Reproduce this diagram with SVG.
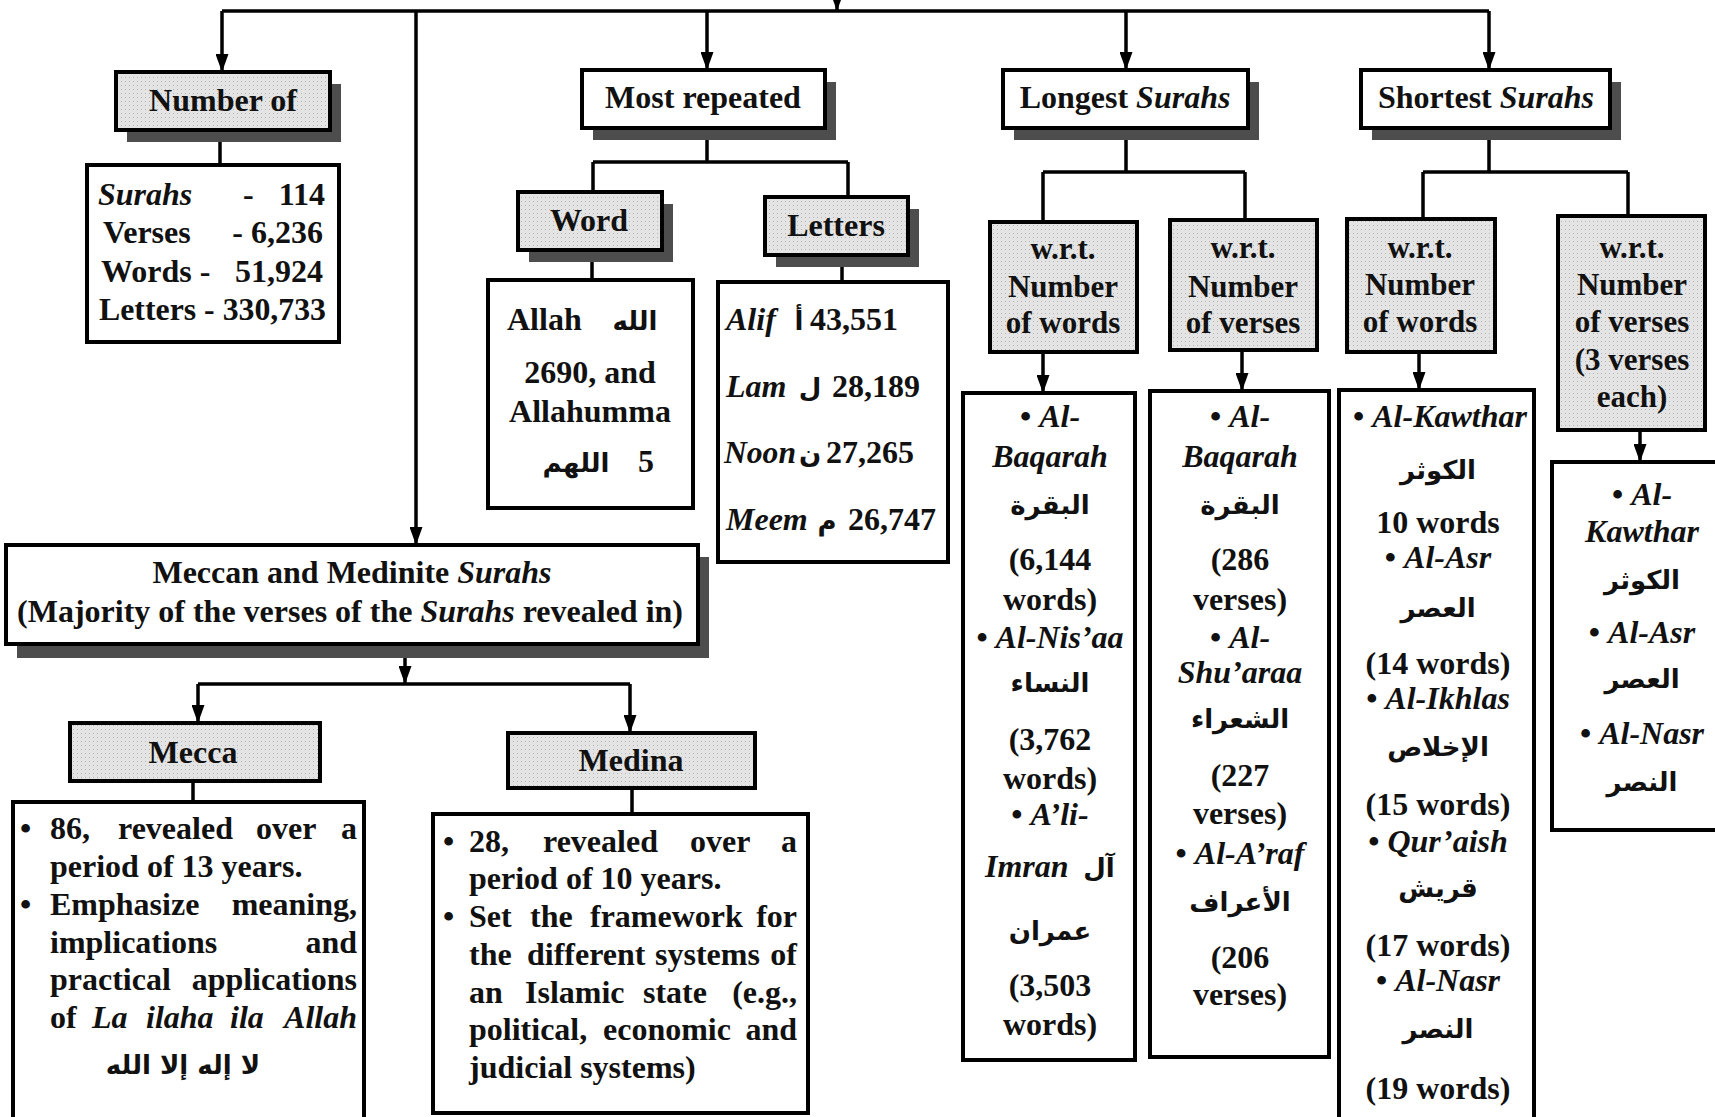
<svg xmlns="http://www.w3.org/2000/svg" width="1715" height="1117" viewBox="0 0 1715 1117">
<style>
.b{stroke:#000;stroke-width:4;fill:#fff}
.g{stroke:#000;stroke-width:4;fill:url(#dots)}
.sh{fill:#4d4d4d}
.con{stroke:#000;stroke-width:3.5;fill:none}
.arr{marker-end:url(#ah)}
text{font-family:"Liberation Serif","Times New Roman",serif;font-weight:bold;font-size:32px;fill:#111}
.i{font-style:italic}
.ar{font-family:"DejaVu Sans",sans-serif;font-weight:bold;font-size:26px}
.c{text-anchor:middle}
.e{text-anchor:end}
.w{font-size:31px}
</style>
<defs>
<pattern id="dots" width="4" height="4" patternUnits="userSpaceOnUse">
<rect width="4" height="4" fill="#e4e4e4"/>
<rect x="1" y="1" width="1" height="1" fill="#b5b5b5"/>
</pattern>
<marker id="ah" viewBox="0 0 18 13" refX="18" refY="6.5" markerWidth="18" markerHeight="13" markerUnits="userSpaceOnUse" orient="auto">
<path d="M0,0 L18,6.5 L0,13 z" fill="#000"/>
</marker>
</defs>
<rect width="1715" height="1117" fill="#fff"/>

<g id="connectors">
<path class="con" d="M222,11 H1489"/>
<path class="con arr" d="M837,-10 V11"/>
<path class="con arr" d="M222,11 V72"/>
<path class="con arr" d="M416,11 V545"/>
<path class="con arr" d="M707,11 V70"/>
<path class="con arr" d="M1126,11 V70"/>
<path class="con arr" d="M1489,11 V70"/>
<path class="con" d="M220,130 V165"/>
<path class="con" d="M707,128 V162 M593,162 H848 M593,162 V192 M848,162 V197"/>
<path class="con" d="M592,250 V280 M842,255 V282"/>
<path class="con" d="M1126,128 V172 M1043,172 H1245 M1043,172 V222 M1245,172 V220"/>
<path class="con" d="M1489,128 V172 M1423,172 H1628 M1423,172 V219 M1628,172 V216"/>
<path class="con arr" d="M1043,352 V393"/>
<path class="con arr" d="M1242,350 V391"/>
<path class="con arr" d="M1419,352 V390"/>
<path class="con arr" d="M1640,430 V462"/>
<path class="con arr" d="M405,644 V684"/>
<path class="con" d="M198,684 H630"/>
<path class="con arr" d="M198,684 V723"/>
<path class="con arr" d="M630,684 V733"/>
<path class="con" d="M193,781 V802 M632,788 V814"/>
</g>

<g id="number-of">
<rect class="sh" x="127" y="84" width="214" height="58"/>
<rect class="g" x="116" y="72" width="214" height="58"/>
<text class="c" x="223" y="111">Number of</text>
</g>
<g id="number-of-content">
<rect class="b" x="87" y="165" width="252" height="177"/>
<text class="i" x="98" y="205">Surahs</text>
<text x="243" y="205">-</text>
<text class="e" x="325" y="205">114</text>
<text x="103" y="243">Verses</text>
<text class="e" x="323" y="243">-  6,236</text>
<text x="101" y="282">Words -</text>
<text class="e" x="323" y="282">51,924</text>
<text x="99" y="320" textLength="227" lengthAdjust="spacingAndGlyphs">Letters - 330,733</text>
</g>

<g id="most-repeated">
<rect class="sh" x="593" y="82" width="243" height="58"/>
<rect class="b" x="582" y="70" width="243" height="58"/>
<text class="c" x="703" y="108">Most repeated</text>
</g>
<g id="word">
<rect class="sh" x="529" y="204" width="144" height="58"/>
<rect class="g" x="518" y="192" width="144" height="58"/>
<text class="c" x="589" y="231">Word</text>
</g>
<g id="letters">
<rect class="sh" x="776" y="209" width="143" height="58"/>
<rect class="g" x="765" y="197" width="143" height="58"/>
<text class="c" x="836" y="236">Letters</text>
</g>
<g id="word-content">
<rect class="b" x="488" y="280" width="205" height="228"/>
<text x="507" y="330">Allah</text>
<text class="ar c" x="635" y="330">الله</text>
<text class="c" x="590" y="383">2690, and</text>
<text class="c" x="590" y="422">Allahumma</text>
<text class="ar c" x="576" y="472">اللهم</text>
<text x="638" y="472">5</text>
</g>
<g id="letters-content">
<rect class="b" x="718" y="282" width="230" height="280"/>
<text class="i" x="726" y="330">Alif</text>
<text class="ar c" x="799" y="330">أ</text>
<text x="810" y="330">43,551</text>
<text class="i" x="726" y="397">Lam</text>
<text class="ar c" x="810" y="397">ل</text>
<text x="832" y="397">28,189</text>
<text class="i" x="724" y="463" textLength="72" lengthAdjust="spacingAndGlyphs">Noon</text>
<text class="ar c" x="810" y="463">ن</text>
<text x="826" y="463">27,265</text>
<text class="i" x="726" y="530">Meem</text>
<text class="ar c" x="827" y="530">م</text>
<text x="848" y="530">26,747</text>
</g>

<g id="longest">
<rect class="sh" x="1014" y="82" width="245" height="58"/>
<rect class="b" x="1003" y="70" width="245" height="58"/>
<text class="c" x="1125" y="108">Longest <tspan class="i">Surahs</tspan></text>
</g>
<g id="shortest">
<rect class="sh" x="1372" y="82" width="249" height="58"/>
<rect class="b" x="1361" y="70" width="249" height="58"/>
<text class="c" x="1486" y="108">Shortest <tspan class="i">Surahs</tspan></text>
</g>

<g id="longest-words">
<rect class="g" x="990" y="222" width="147" height="130"/>
<text class="c w" x="1063" y="259">w.r.t.</text>
<text class="c w" x="1063" y="297">Number</text>
<text class="c w" x="1063" y="333">of words</text>
</g>
<g id="longest-verses">
<rect class="g" x="1170" y="220" width="147" height="130"/>
<text class="c w" x="1243" y="258">w.r.t.</text>
<text class="c w" x="1243" y="297">Number</text>
<text class="c w" x="1243" y="333">of verses</text>
</g>
<g id="shortest-words">
<rect class="g" x="1347" y="219" width="148" height="133"/>
<text class="c w" x="1420" y="258">w.r.t.</text>
<text class="c w" x="1420" y="295">Number</text>
<text class="c w" x="1420" y="332">of words</text>
</g>
<g id="shortest-verses">
<rect class="g" x="1558" y="216" width="147" height="214"/>
<text class="c w" x="1632" y="258">w.r.t.</text>
<text class="c w" x="1632" y="295">Number</text>
<text class="c w" x="1632" y="332">of verses</text>
<text class="c w" x="1632" y="370">(3 verses</text>
<text class="c w" x="1632" y="407">each)</text>
</g>

<g id="longest-words-content">
<rect class="b" x="963" y="393" width="172" height="667"/>
<text class="c" x="1050" y="427">• <tspan class="i">Al-</tspan></text>
<text class="c i" x="1050" y="467">Baqarah</text>
<text class="ar c" x="1050" y="514">البقرة</text>
<text class="c" x="1050" y="570">(6,144</text>
<text class="c" x="1050" y="610">words)</text>
<text class="c" x="1050" y="648">• <tspan class="i">Al-Nis’aa</tspan></text>
<text class="ar c" x="1050" y="692">النساء</text>
<text class="c" x="1050" y="750">(3,762</text>
<text class="c" x="1050" y="789">words)</text>
<text class="c" x="1050" y="825">• <tspan class="i">A’li-</tspan></text>
<text class="i" x="985" y="877">Imran</text>
<text class="ar c" x="1099" y="877">آل</text>
<text class="ar c" x="1050" y="940">عمران</text>
<text class="c" x="1050" y="996">(3,503</text>
<text class="c" x="1050" y="1035">words)</text>
</g>
<g id="longest-verses-content">
<rect class="b" x="1150" y="391" width="179" height="666"/>
<text class="c" x="1240" y="427">• <tspan class="i">Al-</tspan></text>
<text class="c i" x="1240" y="467">Baqarah</text>
<text class="ar c" x="1240" y="514">البقرة</text>
<text class="c" x="1240" y="570">(286</text>
<text class="c" x="1240" y="610">verses)</text>
<text class="c" x="1240" y="648">• <tspan class="i">Al-</tspan></text>
<text class="c i" x="1240" y="683">Shu’araa</text>
<text class="ar c" x="1240" y="728">الشعراء</text>
<text class="c" x="1240" y="786">(227</text>
<text class="c" x="1240" y="824">verses)</text>
<text class="c" x="1240" y="864">• <tspan class="i">Al-A’raf</tspan></text>
<text class="ar c" x="1240" y="911">الأعراف</text>
<text class="c" x="1240" y="968">(206</text>
<text class="c" x="1240" y="1005">verses)</text>
</g>
<g id="shortest-words-content">
<rect class="b" x="1339" y="390" width="195" height="740"/>
<text class="c" x="1440" y="427">• <tspan class="i">Al-Kawthar</tspan></text>
<text class="ar c" x="1438" y="479">الكوثر</text>
<text class="c" x="1438" y="533">10 words</text>
<text class="c" x="1438" y="568">• <tspan class="i">Al-Asr</tspan></text>
<text class="ar c" x="1438" y="617">العصر</text>
<text class="c" x="1438" y="674">(14 words)</text>
<text class="c" x="1438" y="709">• <tspan class="i">Al-Ikhlas</tspan></text>
<text class="ar c" x="1438" y="756">الإخلاص</text>
<text class="c" x="1438" y="815">(15 words)</text>
<text class="c" x="1438" y="852">• <tspan class="i">Qur’aish</tspan></text>
<text class="ar c" x="1438" y="897">قريش</text>
<text class="c" x="1438" y="956">(17 words)</text>
<text class="c" x="1438" y="991">• <tspan class="i">Al-Nasr</tspan></text>
<text class="ar c" x="1438" y="1038">النصر</text>
<text class="c" x="1438" y="1099">(19 words)</text>
</g>
<g id="shortest-verses-content">
<rect class="b" x="1552" y="462" width="170" height="368"/>
<text class="c" x="1642" y="505">• <tspan class="i">Al-</tspan></text>
<text class="c i" x="1642" y="542">Kawthar</text>
<text class="ar c" x="1642" y="589">الكوثر</text>
<text class="c" x="1642" y="643">• <tspan class="i">Al-Asr</tspan></text>
<text class="ar c" x="1642" y="688">العصر</text>
<text class="c" x="1642" y="744">• <tspan class="i">Al-Nasr</tspan></text>
<text class="ar c" x="1642" y="791">النصر</text>
</g>

<g id="meccan-medinite">
<rect class="sh" x="17" y="557" width="692" height="101"/>
<rect class="b" x="6" y="545" width="692" height="99"/>
<text class="c" x="352" y="583">Meccan and Medinite <tspan class="i">Surahs</tspan></text>
<text class="c" x="350" y="622">(Majority of the verses of the <tspan class="i">Surahs</tspan> revealed in)</text>
</g>
<g id="mecca">
<rect class="g" x="70" y="723" width="250" height="58"/>
<text class="c" x="193" y="763">Mecca</text>
</g>
<g id="medina">
<rect class="g" x="508" y="733" width="247" height="55"/>
<text class="c" x="631" y="771">Medina</text>
</g>
<g id="mecca-content">
<rect class="b" x="13" y="802" width="351" height="325"/>
<text x="20" y="839">•</text>
<text x="50" y="839">86,</text>
<text x="118" y="839">revealed</text>
<text x="256" y="839">over</text>
<text class="e" x="357" y="839">a</text>
<text x="50" y="877">period of 13 years.</text>
<text x="20" y="915">•</text>
<text x="50" y="915">Emphasize</text>
<text class="e" x="357" y="915">meaning,</text>
<text x="50" y="953">implications</text>
<text class="e" x="357" y="953">and</text>
<text x="50" y="990">practical</text>
<text class="e" x="357" y="990">applications</text>
<text x="50" y="1028">of</text>
<text class="i" x="92" y="1028">La</text>
<text class="i" x="146" y="1028">ilaha</text>
<text class="i" x="230" y="1028">ila</text>
<text class="i e" x="357" y="1028">Allah</text>
<text class="ar c" x="183" y="1074">لا إله إلا الله</text>
</g>
<g id="medina-content">
<rect class="b" x="433" y="814" width="375" height="299"/>
<text x="443" y="852">•</text>
<text x="469" y="852">28,</text>
<text x="543" y="852">revealed</text>
<text x="690" y="852">over</text>
<text class="e" x="797" y="852">a</text>
<text x="469" y="889">period of 10 years.</text>
<text x="443" y="927">•</text>
<text x="469" y="927">Set</text>
<text x="530" y="927">the</text>
<text x="590" y="927">framework</text>
<text class="e" x="797" y="927">for</text>
<text x="469" y="965">the</text>
<text x="527" y="965">different</text>
<text x="655" y="965">systems</text>
<text class="e" x="797" y="965">of</text>
<text x="469" y="1003">an</text>
<text x="525" y="1003">Islamic</text>
<text x="643" y="1003">state</text>
<text class="e" x="797" y="1003">(e.g.,</text>
<text x="469" y="1040">political,</text>
<text x="603" y="1040">economic</text>
<text class="e" x="797" y="1040">and</text>
<text x="469" y="1078">judicial systems)</text>
</g>
</svg>
